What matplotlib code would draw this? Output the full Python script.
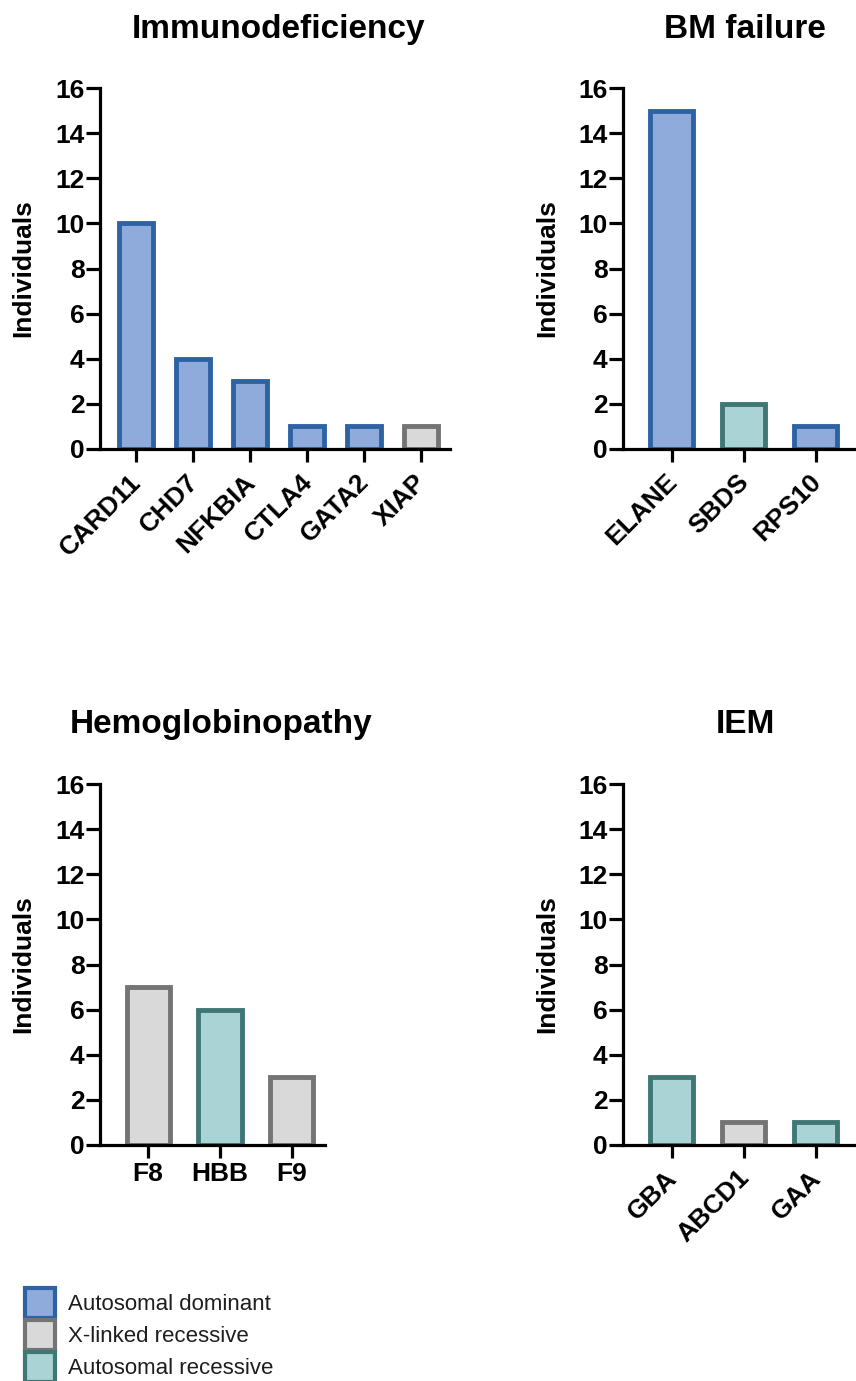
import matplotlib
matplotlib.use("Agg")
import matplotlib.pyplot as plt
import matplotlib.transforms as mtransforms
from matplotlib.patches import Patch

plt.rcParams['font.family'] = ['Liberation Sans', 'DejaVu Sans']

# data
immuno_genes = ["CARD11", "CHD7", "NFKBIA", "CTLA4", "GATA2", "XIAP"]
immuno_vals = [10, 4, 3, 1, 1, 1]
immuno_type = ["AD", "AD", "AD", "AD", "AD", "XL"]

bm_genes = ["ELANE", "SBDS", "RPS10"]
bm_vals = [15, 2, 1]
bm_type = ["AD", "AR", "AD"]

hemo_genes = ["F8", "HBB", "F9"]
hemo_vals = [7, 6, 3]
hemo_type = ["XL", "AR", "XL"]

iem_genes = ["GBA", "ABCD1", "GAA"]
iem_vals = [3, 1, 1]
iem_type = ["AR", "XL", "AR"]

fills = {"AD": "#8FABDC", "XL": "#D9D9D9", "AR": "#A9D3D5"}
edges = {"AD": "#2E62A3", "XL": "#747474", "AR": "#3E7774"}
legend_names = {"AD": "Autosomal dominant", "XL": "X-linked recessive",
                "AR": "Autosomal recessive"}

W, H = 856, 1381
fig = plt.figure(figsize=(W / 100, H / 100), dpi=100)


def make_ax(left, right, bottom_px, top_px):
    return fig.add_axes([left / W, 1 - bottom_px / H, (right - left) / W,
                         (bottom_px - top_px) / H])


def draw(ax, genes, vals, types, xlim, rot):
    x = range(len(genes))
    ax.bar(x, vals, width=0.6,
           color=[fills[t] for t in types],
           edgecolor=[edges[t] for t in types], linewidth=3.5)
    ax.set_xlim(*xlim)
    ax.set_ylim(0, 16)
    ax.set_yticks(range(0, 17, 2))
    ax.set_xticks(list(x))
    ax.spines["top"].set_visible(False)
    ax.spines["right"].set_visible(False)
    ax.spines["left"].set_linewidth(2.3)
    ax.spines["bottom"].set_linewidth(2.3)
    ax.tick_params(axis="y", width=2.3, length=10, pad=1)
    ax.tick_params(axis="x", width=2.3, length=9, pad=3)
    if rot:
        ax.set_xticklabels(genes, rotation=45, ha="right",
                           rotation_mode="anchor", fontsize=19,
                           fontweight="bold")
        # nudge rotated labels a bit left/down
        offset = mtransforms.ScaledTranslation(-5 / 72, -3 / 72,
                                               fig.dpi_scale_trans)
        for lab in ax.get_xticklabels():
            lab.set_transform(lab.get_transform() + offset)
    else:
        ax.set_xticklabels(genes, fontsize=19, fontweight="bold")
    for lab in ax.get_yticklabels():
        lab.set_fontsize(19)
        lab.set_fontweight("bold")


ax1 = make_ax(100, 450, 449, 88)
draw(ax1, immuno_genes, immuno_vals, immuno_type, (-0.63, 5.51), True)
ax2 = make_ax(623, 856, 449, 88)
draw(ax2, bm_genes, bm_vals, bm_type, (-0.68, 2.56), True)
ax3 = make_ax(100, 325, 1145, 784)
draw(ax3, hemo_genes, hemo_vals, hemo_type, (-0.67, 2.46), False)
ax4 = make_ax(623, 856, 1145, 784)
draw(ax4, iem_genes, iem_vals, iem_type, (-0.68, 2.56), True)

# y labels
for xc, yc in [(23, 268), (547, 268), (23, 964), (547, 964)]:
    fig.text(xc / W, 1 - yc / H, "Individuals", fontsize=19,
             fontweight="bold", rotation=90, ha="center", va="center")

# titles
titles = [("Immunodeficiency", 279, 38), ("BM failure", 745, 38),
          ("Hemoglobinopathy", 221, 733), ("IEM", 745, 733)]
for txt, xc, yb in titles:
    fig.text(xc / W, 1 - yb / H, txt, fontsize=24, fontweight="bold",
             ha="center", va="baseline")

handles = [Patch(facecolor=fills[k], edgecolor=edges[k], linewidth=3,
                 label=legend_names[k]) for k in ["AD", "XL", "AR"]]
fig.legend(handles=handles, loc="upper left",
           bbox_to_anchor=(25 / W, 1 - 1288 / H), borderpad=0,
           borderaxespad=0, frameon=False, fontsize=16,
           handlelength=1.35, handleheight=1.7, labelspacing=0.08,
           handletextpad=0.6, labelcolor="#1E1E1E")

fig.savefig("out.png", dpi=100)
